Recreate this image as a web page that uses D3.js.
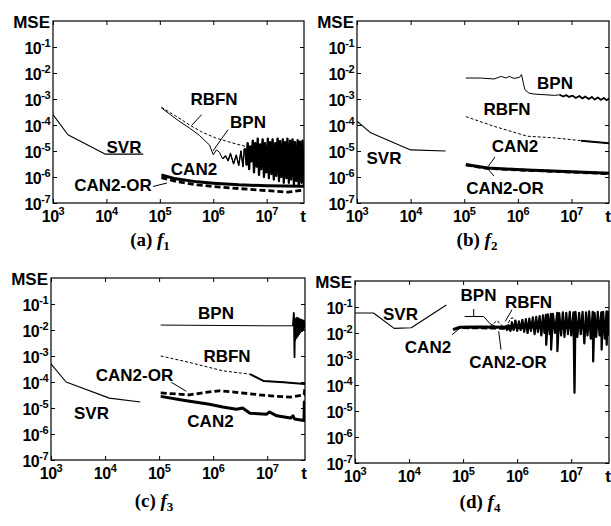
<!DOCTYPE html>
<html><head><meta charset="utf-8">
<script src="https://cdn.jsdelivr.net/npm/d3@7"></script>
<style>
html,body{margin:0;padding:0;background:#fff;}
svg{display:block;}
</style></head><body>
<svg id="chart" width="611" height="526"></svg>
<script>
// ---------- data ----------
const xTicks = [1e3, 1e4, 1e5, 1e6, 1e7];
const xTickExp = ["3", "4", "5", "6", "7"];
const yTicks = [1e-1, 1e-2, 1e-3, 1e-4, 1e-5, 1e-6, 1e-7];
const yTickExp = ["-1", "-2", "-3", "-4", "-5", "-6", "-7"];
const xDomain = [1e3, 5e7];
const yDomain = [1e-7, 1];
const seriesNames = ["SVR", "RBFN", "BPN", "CAN2-OR", "CAN2"];
const panelLetters = ["(a)", "(b)", "(c)", "(d)"];
const panelFuncIdx = ["1", "2", "3", "4"];

// (a) f1
const a_SVR = [[1e3,2.5e-4],[1.9e3,4.2e-5],[9.4e3,7.6e-6],[4.9e4,7.6e-6]];
const a_RBFN = [[1.07e5,4.8e-4],[2e5,2.2e-4],[3.6e5,1.0e-4],[6e5,5.5e-5],[1.1e6,3.2e-5],[2e6,2.2e-5],[4e6,1.5e-5],[1e7,1.1e-5],[5e7,8e-6]];
const a_BPN = [[1.07e5,4.6e-4],[1.5e5,2.7e-4],[2.2e5,1.5e-4],[3.6e5,7.6e-5],[5.5e5,4e-5],[8.5e5,1.7e-5],[1.0e6,7.2e-6],[1.15e6,1.1e-5],[1.3e6,9e-6],[1.5e6,5e-6],[1.7e6,6.5e-6],[1.9e6,4.2e-6],[2.1e6,8e-6],[2.4e6,3.2e-6],[2.7e6,7e-6],[3.0e6,2.8e-6],[3.3e6,1e-5],[3.6e6,2.5e-6],[3.8e6,1.2e-5],
 [4.0e6,1.2e-5],[4.2e6,3e-6],[4.4e6,2e-5],[4.7e6,2e-6],[4.9e6,1.5e-5],[5.2e6,4e-6],[5.5e6,2.5e-5],[5.8e6,1.5e-6],[6.1e6,2e-5],[6.5e6,2.5e-6],[6.8e6,3e-5],[7.2e6,1.2e-6],[7.6e6,1.8e-5],[7.9e6,2e-6],[8.4e6,2.8e-5],[8.9e6,1e-6],[9.3e6,2e-5],[9.9e6,1.5e-6],[1.05e7,3e-5],[1.1e7,9e-7],[1.16e7,2.2e-5],[1.23e7,1.3e-6],[1.29e7,2.8e-5],[1.36e7,8e-7],[1.45e7,2e-5],[1.51e7,1.1e-6],[1.6e7,3e-5],[1.7e7,7e-7],[1.78e7,2.4e-5],[1.88e7,1e-6],[2.0e7,2.8e-5],[2.09e7,6e-7],[2.21e7,2.2e-5],[2.34e7,9e-7],[2.45e7,3e-5],[2.6e7,6e-7],[2.75e7,2.5e-5],[2.88e7,8e-7],[3.05e7,2.8e-5],[3.24e7,5e-7],[3.39e7,2.2e-5],[3.59e7,7e-7],[3.8e7,2.6e-5],[3.98e7,5e-7],[4.2e7,2.3e-5],[4.47e7,6e-7],[4.68e7,2.5e-5],[4.95e7,5e-7]];
const a_CAN2 = [[1.07e5,1.2e-6],[2e5,8.5e-7],[5e5,6.5e-7],[1e6,5.8e-7],[3e6,5e-7],[1e7,4.6e-7],[5e7,4.4e-7]];
const a_CAN2OR = [[1.07e5,9.5e-7],[2e5,6.8e-7],[5e5,5e-7],[1e6,4.3e-7],[3e6,3.6e-7],[1e7,3e-7],[2.5e7,2.6e-7],[5e7,3.2e-7]];

// (b) f2
const b_SVR = [[1e3,1.4e-4],[1.8e3,5e-5],[1e4,1.1e-5],[4.5e4,1e-5]];
const b_RBFN = [[1.07e5,2.1e-4],[3.6e5,8.9e-5],[1.5e6,3.7e-5],[4.8e6,3.2e-5],[1.5e7,2.5e-5],[5e7,2e-5]];
const b_BPN = [[1.07e5,6.4e-3],[2e5,6.4e-3],[3.6e5,5.9e-3],[4.9e5,7.4e-3],[6e5,6.4e-3],[6.9e5,7.4e-3],[8.5e5,6.2e-3],[1.07e6,6.8e-3],[1.17e6,8.7e-3],[1.26e6,4.2e-3],[1.35e6,2.3e-3],[1.6e6,1.7e-3],[2e6,1.55e-3],[4.8e6,1.38e-3],
 [6e6,1.45e-3],[7e6,1.25e-3],[8e6,1.4e-3],[9e6,1.2e-3],[1.05e7,1.35e-3],[1.2e7,1.1e-3],[1.4e7,1.3e-3],[1.6e7,1.05e-3],[1.8e7,1.25e-3],[2.1e7,1.0e-3],[2.4e7,1.2e-3],[2.7e7,9.5e-4],[3.1e7,1.15e-3],[3.5e7,9.2e-4],[4e7,1.1e-3],[4.5e7,9e-4],[5e7,1.05e-3]];
const b_CAN2 = [[1.07e5,3e-6],[2.7e5,2.2e-6],[1.15e6,1.9e-6],[5e7,1.4e-6]];
const b_CAN2OR = [[1.07e5,2.9e-6],[2.7e5,2.15e-6],[1.15e6,1.85e-6],[5e7,1.35e-6]];

// (c) f3
const c_SVR = [[1e3,5e-4],[1.9e3,1e-4],[1.2e4,2.4e-5],[4.5e4,1.7e-5]];
const c_RBFN = [[1.07e5,1.0e-3],[3.6e5,5.7e-4],[1.5e6,2.7e-4],[4.8e6,2e-4],[8.5e6,1.1e-4],[2e7,9.8e-5],[5e7,8.3e-5]];
const c_BPN = [[1.07e5,1.55e-2],[1e6,1.5e-2],[1e7,1.45e-2],[3.0e7,1.45e-2],[3.1e7,4.5e-2],[3.15e7,1.2e-2],[3.2e7,9e-4],[3.25e7,2.6e-2],[3.3e7,4e-3],[3.4e7,2.8e-2],[3.5e7,5e-3],[3.6e7,3e-2],[3.7e7,6e-3],[3.8e7,2.8e-2],[3.9e7,7e-3],[4.0e7,2.6e-2],[4.1e7,8e-3],[4.25e7,2.5e-2],[4.4e7,9e-3],[4.55e7,2.4e-2],[4.7e7,1e-2],[4.85e7,2.2e-2],[5e7,1.2e-2]];
const c_CAN2 = [[1.07e5,2.8e-5],[2.8e5,2e-5],[8.5e5,1.4e-5],[1.5e6,1.1e-5],[2.7e6,9e-6],[3.5e6,1.0e-5],[4.8e6,6.3e-6],[9.8e6,5.8e-6],[1.1e7,7e-6],[1.5e7,5e-6],[2.7e7,4.1e-6],[3.0e7,5e-6],[3.2e7,3.8e-6],[4.8e7,3.3e-6],[4.85e7,1.7e-5],[4.95e7,3.5e-6],[5e7,1.6e-5]];
const c_CAN2OR = [[1.07e5,3.8e-5],[3.6e5,3.2e-5],[7.4e5,4e-5],[1.3e6,4.6e-5],[2.7e6,4e-5],[9.8e6,3e-5],[2.7e7,2.6e-5],[4.8e7,3.2e-5],[5e7,6e-5]];

// (d) f4
const d_SVR = [[1e3,5.9e-2],[2.2e3,5.9e-2],[5.3e3,1.5e-2],[1.1e4,1.6e-2],[4.9e4,1.2e-1]];
const d_RBFN = [[1.07e5,1.8e-2],[3.2e5,1.8e-2],[3.8e5,2.5e-2],[4.3e5,3e-2],[4.8e5,2.2e-2],[5.5e5,1.8e-2],[6.6e5,2.0e-2],[7.5e5,3.6e-2],[8.4e5,3.8e-2],[9.3e5,2.6e-2],[1.0e6,2.0e-2]];
const d_BPN = [[1.07e5,4.3e-2],[2.4e5,4.3e-2],[3.2e5,2.2e-2],[4e5,1.8e-2],[6e5,1.8e-2],[6.5e5,1.3e-2],[7e5,2e-2],[7.5e5,1.2e-2],
 [8.0e5,2.6e-2],[8.6e5,1.3e-2],[9.3e5,3.0e-2],[1.0e6,1.2e-2],[1.08e6,2.8e-2],[1.16e6,1.3e-2],[1.25e6,3.2e-2],[1.35e6,1.1e-2],[1.45e6,3.4e-2],[1.56e6,1.0e-2],[1.68e6,3.6e-2],[1.8e6,1.2e-2],[1.95e6,4.0e-2],[2.1e6,9e-3],[2.25e6,4.2e-2],[2.42e6,1.1e-2],[2.6e6,4.5e-2],[2.8e6,8e-3],[3.0e6,4.8e-2],[3.2e6,1.0e-2],[3.4e6,5.0e-2],[3.45e6,3.5e-3],[3.7e6,5.2e-2],[4.0e6,9e-3],[4.2e6,5.5e-2],[4.25e6,2.3e-3],[4.6e6,5.5e-2],[5.0e6,1.0e-2],[5.5e6,6.0e-2],[5.55e6,2e-3],[6.0e6,5.8e-2],[6.5e6,8e-3],[7.0e6,6.2e-2],[7.5e6,7e-3],[8.1e6,6.0e-2],[8.7e6,9e-3],[9.4e6,6.5e-2],[1.0e7,8e-3],[1.1e7,6.2e-2],[1.15e7,5e-5],[1.2e7,6.5e-2],[1.3e7,7e-3],[1.4e7,6.0e-2],[1.5e7,9e-3],[1.62e7,6.5e-2],[1.75e7,4e-3],[1.88e7,6.2e-2],[2.0e7,8e-3],[2.15e7,6.8e-2],[2.3e7,6e-3],[2.5e7,6.5e-2],[2.55e7,8e-4],[2.7e7,6.0e-2],[2.9e7,7e-3],[3.1e7,6.5e-2],[3.35e7,8e-3],[3.6e7,6.2e-2],[3.65e7,2.3e-3],[3.9e7,6.5e-2],[4.2e7,6e-3],[4.5e7,6.8e-2],[4.52e7,3.5e-3],[4.8e7,6.5e-2],[5.0e7,8e-3]];
const d_CAN2 = [[6.5e4,1.35e-2],[8.7e4,1.66e-2],[2e5,1.7e-2],[5e5,1.65e-2],[1e6,1.7e-2],[5e6,1.7e-2],[5e7,1.75e-2]];
const d_CAN2OR = [[1.0e5,1.6e-2],[3e5,1.55e-2],[6e5,1.5e-2],[1e6,1.6e-2],[5e7,1.6e-2]];

// ---------- layout ----------
const FONT = "'Liberation Sans', Arial, Helvetica, sans-serif";
const SERIF = "'Liberation Serif', 'Times New Roman', serif";
const styles = {
  "SVR":     {w: 1.1, dash: null},
  "BPN":     {w: 1.0, dash: null},
  "RBFN":    {w: 1.0, dash: "3,2"},
  "CAN2":    {w: 3.0, dash: null},
  "CAN2-OR": {w: 2.8, dash: "6,3"}
};
const panels = [
  {L:53, T:21, R:304, B:203, cap:[150,246],
   data:{"SVR":a_SVR,"RBFN":a_RBFN,"BPN":a_BPN,"CAN2-OR":a_CAN2OR,"CAN2":a_CAN2},
   tails:[["BPN",1.5e6,1.3],["BPN",4e6,2.3]],
   labels:[["RBFN",214,105],["BPN",248,128],["SVR",124,153],["CAN2",194,175],["CAN2-OR",113,191]],
   leaders:[[[201.7,114.7],[191.7,125.3]],[[228,129.7],[213,151]],[[153,186.5],[167,183]]]},
  {L:357, T:21, R:609, B:203, cap:[477,246],
   data:{"SVR":b_SVR,"RBFN":b_RBFN,"BPN":b_BPN,"CAN2-OR":b_CAN2OR,"CAN2":b_CAN2},
   tails:[["RBFN",1e7,2],["BPN",5e6,1.8]],
   labels:[["BPN",555,89],["RBFN",507,115],["CAN2",515,152],["SVR",384,164],["CAN2-OR",505,194]],
   leaders:[[[495,157],[487,168],[494,176]]]},
  {L:51, T:278, R:305, B:460, cap:[154,507],
   data:{"SVR":c_SVR,"RBFN":c_RBFN,"BPN":c_BPN,"CAN2-OR":c_CAN2OR,"CAN2":c_CAN2},
   tails:[["RBFN",3.5e6,2],["BPN",3.0e7,1.8]],
   labels:[["BPN",216,319],["RBFN",227,362],["CAN2-OR",134.5,381],["SVR",91.5,419],["CAN2",210.5,427]],
   leaders:[[[171.3,382.3],[186.3,391.3]]]},
  {L:355, T:281, R:609, B:463, cap:[480,508],
   data:{"SVR":d_SVR,"CAN2-OR":d_CAN2OR,"CAN2":d_CAN2,"RBFN":d_RBFN,"BPN":d_BPN},
   tails:[["BPN",6e5,2.2]],
   labels:[["SVR",400.5,320],["BPN",478.5,301],["RBFN",528.5,308],["CAN2",428,353],["CAN2-OR",508,368]],
   leaders:[[[473.7,309],[473.7,316]],[[512,309.7],[505.3,321.3]],[[452,334.7],[460.3,328]],[[498.7,331.3],[501,349.7]]]}
];

const svg = d3.select("#chart");
svg.append("rect").attr("width",611).attr("height",526).attr("fill","#fff");

panels.forEach((p, i) => {
  const x = d3.scaleLog().domain(xDomain).range([p.L, p.R]);
  const y = d3.scaleLog().domain(yDomain).range([p.B, p.T]);
  const g = svg.append("g");
  const clipId = "clip" + i;
  svg.append("clipPath").attr("id", clipId).append("rect")
    .attr("x", p.L).attr("y", p.T).attr("width", p.R - p.L).attr("height", p.B - p.T);

  const tk = 4;
  const axes = [
    [d3.axisBottom(x).tickValues(xTicks).tickSizeInner(-tk), `translate(0,${p.B})`],
    [d3.axisTop(x).tickValues(xTicks).tickSizeInner(-tk), `translate(0,${p.T})`],
    [d3.axisLeft(y).tickValues(yTicks).tickSizeInner(-tk), `translate(${p.L},0)`],
    [d3.axisRight(y).tickValues(yTicks).tickSizeInner(-tk), `translate(${p.R},0)`]
  ];
  axes.forEach(([ax, tr]) => {
    const ag = g.append("g").attr("transform", tr).call(ax.tickSizeOuter(0).tickFormat(""));
    ag.select(".domain").remove();
    ag.selectAll(".tick line").attr("stroke", "#000").attr("stroke-width", 1);
  });

  g.append("rect").attr("x", p.L).attr("y", p.T).attr("width", p.R - p.L).attr("height", p.B - p.T)
    .attr("fill", "none").attr("stroke", "#000").attr("stroke-width", 1.2);

  xTicks.forEach((v, k) => {
    const t = g.append("text").attr("x", x(v)).attr("y", p.B + 19)
      .attr("text-anchor", "middle").attr("font-family", FONT).attr("font-weight", "bold")
      .attr("font-size", 16).attr("letter-spacing", -0.5).attr("fill", "#000");
    t.append("tspan").text("10");
    t.append("tspan").attr("font-size", 11).attr("dy", -7).text(xTickExp[k]);
  });
  g.append("text").attr("x", p.R - 1).attr("y", p.B + 19).attr("text-anchor", "middle")
    .attr("font-family", FONT).attr("font-weight", "bold").attr("font-size", 17).text("t");

  yTicks.forEach((v, k) => {
    const t = g.append("text").attr("x", p.L - 3).attr("y", y(v) + 7)
      .attr("text-anchor", "end").attr("font-family", FONT).attr("font-weight", "bold")
      .attr("font-size", 16).attr("letter-spacing", -0.5).attr("fill", "#000");
    t.append("tspan").text("10");
    t.append("tspan").attr("font-size", 11).attr("dy", -7).text(yTickExp[k]);
  });
  g.append("text").attr("x", p.L - 3).attr("y", p.T + 7).attr("text-anchor", "end")
    .attr("font-family", FONT).attr("font-weight", "bold").attr("font-size", 17).text("MSE");

  const line = d3.line().x(d => x(d[0])).y(d => y(d[1]));
  const lg = g.append("g").attr("clip-path", `url(#${clipId})`);
  Object.keys(p.data).forEach(name => {
    const s = styles[name];
    lg.append("path").datum(p.data[name]).attr("d", line)
      .attr("fill", "none").attr("stroke", "#000").attr("stroke-width", s.w)
      .attr("stroke-linejoin", "round")
      .attr("stroke-dasharray", s.dash);
  });
  p.tails.forEach(([name, from, w]) => {
    lg.append("path").datum(p.data[name].filter(d => d[0] >= from)).attr("d", line)
      .attr("fill", "none").attr("stroke", "#000").attr("stroke-width", w)
      .attr("stroke-linejoin", "round");
  });

  p.leaders.forEach(pts => {
    g.append("path").attr("d", d3.line()(pts)).attr("fill", "none")
      .attr("stroke", "#000").attr("stroke-width", 1);
  });
  p.labels.forEach(([txt, lx, ly]) => {
    g.append("text").attr("x", lx).attr("y", ly).attr("text-anchor", "middle")
      .attr("font-family", FONT).attr("font-weight", "bold").attr("font-size", 17)
      .attr("fill", "#000").text(txt);
  });

  const c = g.append("text").attr("x", p.cap[0]).attr("y", p.cap[1]).attr("text-anchor", "middle")
    .attr("font-family", SERIF).attr("font-weight", "bold").attr("font-size", 19).attr("fill", "#000");
  c.append("tspan").text(panelLetters[i] + " ");
  c.append("tspan").attr("font-style", "italic").text("f");
  c.append("tspan").attr("font-size", 13).attr("dy", 4).text(panelFuncIdx[i]);
});
</script>
</body></html>
